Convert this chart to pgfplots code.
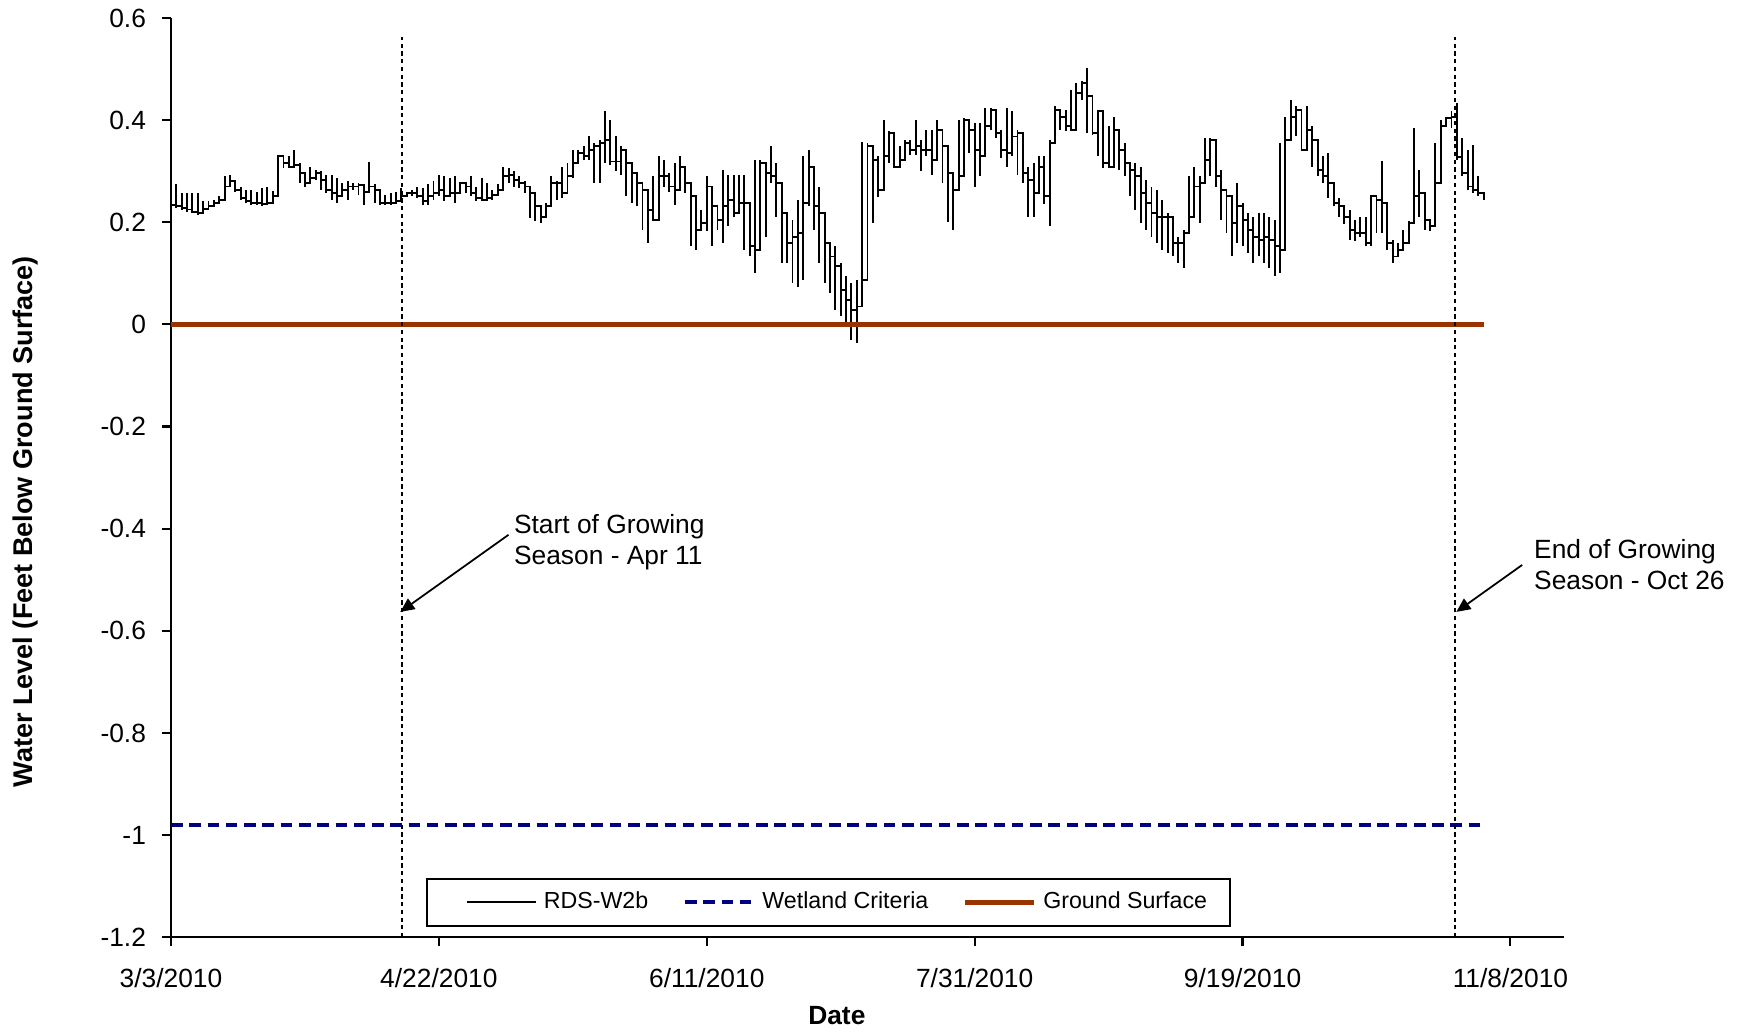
\documentclass[border=0pt]{standalone}
\usepackage{fontspec}
\setmainfont{Liberation Sans}
\usepackage{pgfplots}
\usepackage{pgfplotstable}
\pgfplotsset{compat=1.18}
\usetikzlibrary{arrows.meta}

\definecolor{groundbrown}{RGB}{153,51,0}
\definecolor{wetnavy}{RGB}{0,0,128}

\newcommand{\chartfont}{\fontsize{7.5pt}{8.9pt}\selectfont}
\newcommand{\legendfont}{\fontsize{6.6pt}{7.8pt}\selectfont}

% Daily water level at RDS-W2b (ft), days counted from 3/3/2010:
% y = daily step level, lo/hi = extent of the within-day swing
\pgfplotstableread{
d y lo hi
0 0.234 0.228 0.277
1 0.231 0.228 0.274
2 0.228 0.225 0.257
3 0.225 0.221 0.257
4 0.221 0.218 0.257
5 0.218 0.215 0.257
6 0.226 0.221 0.241
7 0.231 0.228 0.241
8 0.238 0.234 0.244
9 0.244 0.241 0.251
10 0.270 0.244 0.290
11 0.280 0.270 0.293
12 0.264 0.260 0.277
13 0.247 0.244 0.270
14 0.241 0.238 0.264
15 0.238 0.234 0.264
16 0.238 0.234 0.260
17 0.236 0.232 0.267
18 0.238 0.234 0.270
19 0.251 0.238 0.262
20 0.329 0.251 0.332
21 0.316 0.306 0.329
22 0.309 0.306 0.329
23 0.313 0.306 0.342
24 0.296 0.277 0.316
25 0.277 0.270 0.296
26 0.287 0.277 0.309
27 0.296 0.283 0.303
28 0.283 0.264 0.300
29 0.264 0.257 0.293
30 0.257 0.244 0.293
31 0.251 0.238 0.287
32 0.264 0.251 0.277
33 0.270 0.244 0.280
34 0.270 0.264 0.277
35 0.273 0.254 0.277
36 0.260 0.234 0.274
37 0.270 0.260 0.318
38 0.264 0.238 0.274
39 0.238 0.234 0.254
40 0.238 0.234 0.254
41 0.238 0.234 0.257
42 0.241 0.238 0.260
43 0.251 0.244 0.267
44 0.257 0.251 0.260
45 0.257 0.251 0.264
46 0.251 0.247 0.270
47 0.241 0.234 0.267
48 0.251 0.234 0.274
49 0.257 0.244 0.280
50 0.264 0.251 0.293
51 0.251 0.241 0.290
52 0.257 0.251 0.287
53 0.257 0.238 0.290
54 0.277 0.270 0.277
55 0.270 0.257 0.274
56 0.257 0.251 0.290
57 0.247 0.241 0.270
58 0.244 0.241 0.287
59 0.247 0.241 0.277
60 0.254 0.244 0.264
61 0.264 0.257 0.274
62 0.290 0.280 0.309
63 0.293 0.277 0.306
64 0.283 0.270 0.300
65 0.277 0.267 0.290
66 0.270 0.257 0.280
67 0.257 0.208 0.270
68 0.231 0.202 0.234
69 0.211 0.198 0.234
70 0.231 0.225 0.238
71 0.277 0.264 0.290
72 0.277 0.244 0.280
73 0.257 0.247 0.309
74 0.290 0.267 0.316
75 0.316 0.287 0.342
76 0.336 0.322 0.342
77 0.329 0.322 0.349
78 0.342 0.322 0.368
79 0.349 0.277 0.355
80 0.355 0.277 0.362
81 0.362 0.316 0.417
82 0.319 0.313 0.401
83 0.319 0.300 0.368
84 0.342 0.293 0.349
85 0.316 0.251 0.322
86 0.296 0.238 0.316
87 0.277 0.231 0.290
88 0.264 0.185 0.277
89 0.224 0.159 0.244
90 0.205 0.203 0.290
91 0.290 0.290 0.329
92 0.290 0.270 0.322
93 0.270 0.260 0.296
94 0.264 0.234 0.316
95 0.309 0.277 0.329
96 0.277 0.257 0.290
97 0.251 0.153 0.257
98 0.185 0.146 0.211
99 0.198 0.182 0.224
100 0.270 0.182 0.290
101 0.231 0.153 0.251
102 0.205 0.185 0.231
103 0.231 0.159 0.303
104 0.244 0.192 0.293
105 0.218 0.211 0.293
106 0.238 0.225 0.293
107 0.238 0.146 0.293
108 0.153 0.133 0.211
109 0.146 0.101 0.322
110 0.316 0.238 0.322
111 0.296 0.172 0.309
112 0.290 0.277 0.349
113 0.277 0.211 0.316
114 0.218 0.120 0.270
115 0.159 0.120 0.211
116 0.172 0.081 0.205
117 0.179 0.074 0.244
118 0.238 0.087 0.329
119 0.309 0.231 0.342
120 0.231 0.185 0.290
121 0.218 0.120 0.270
122 0.159 0.081 0.192
123 0.133 0.061 0.159
124 0.114 0.029 0.153
125 0.068 0.016 0.120
126 0.048 -0.004 0.094
127 0.029 -0.030 0.081
128 0.035 -0.037 0.087
129 0.087 0.081 0.358
130 0.349 0.342 0.355
131 0.322 0.198 0.329
132 0.264 0.250 0.329
133 0.329 0.322 0.401
134 0.375 0.316 0.378
135 0.309 0.306 0.329
136 0.322 0.316 0.349
137 0.355 0.336 0.362
138 0.342 0.332 0.362
139 0.349 0.332 0.401
140 0.342 0.300 0.362
141 0.342 0.329 0.381
142 0.322 0.293 0.381
143 0.381 0.349 0.401
144 0.349 0.277 0.355
145 0.296 0.201 0.303
146 0.264 0.185 0.290
147 0.290 0.270 0.401
148 0.401 0.381 0.404
149 0.381 0.336 0.384
150 0.342 0.270 0.394
151 0.329 0.290 0.394
152 0.388 0.375 0.424
153 0.420 0.381 0.424
154 0.375 0.365 0.378
155 0.342 0.326 0.381
156 0.336 0.309 0.424
157 0.368 0.329 0.417
158 0.375 0.293 0.381
159 0.296 0.277 0.336
160 0.283 0.211 0.309
161 0.257 0.211 0.316
162 0.309 0.257 0.329
163 0.251 0.235 0.329
164 0.355 0.192 0.362
165 0.420 0.362 0.427
166 0.407 0.381 0.414
167 0.388 0.378 0.420
168 0.381 0.378 0.459
169 0.453 0.433 0.473
170 0.473 0.440 0.476
171 0.447 0.375 0.502
172 0.375 0.371 0.427
173 0.417 0.329 0.420
174 0.316 0.306 0.381
175 0.309 0.306 0.388
176 0.381 0.322 0.407
177 0.342 0.303 0.381
178 0.316 0.290 0.355
179 0.303 0.251 0.316
180 0.290 0.225 0.316
181 0.257 0.198 0.309
182 0.238 0.185 0.283
183 0.218 0.172 0.270
184 0.211 0.159 0.264
185 0.211 0.146 0.244
186 0.211 0.140 0.218
187 0.159 0.133 0.185
188 0.159 0.120 0.172
189 0.179 0.110 0.185
190 0.211 0.198 0.290
191 0.270 0.251 0.309
192 0.277 0.198 0.290
193 0.322 0.277 0.365
194 0.362 0.290 0.365
195 0.290 0.270 0.336
196 0.264 0.205 0.303
197 0.251 0.179 0.257
198 0.198 0.133 0.251
199 0.231 0.159 0.277
200 0.205 0.153 0.238
201 0.185 0.140 0.218
202 0.172 0.120 0.211
203 0.166 0.133 0.218
204 0.172 0.120 0.218
205 0.166 0.110 0.211
206 0.153 0.094 0.205
207 0.146 0.101 0.355
208 0.362 0.355 0.407
209 0.407 0.397 0.440
210 0.420 0.368 0.427
211 0.342 0.342 0.381
212 0.381 0.355 0.427
213 0.362 0.309 0.388
214 0.303 0.290 0.336
215 0.290 0.277 0.329
216 0.277 0.247 0.336
217 0.238 0.231 0.251
218 0.231 0.211 0.247
219 0.211 0.196 0.224
220 0.185 0.166 0.224
221 0.179 0.163 0.205
222 0.179 0.172 0.211
223 0.159 0.153 0.211
224 0.251 0.153 0.254
225 0.244 0.179 0.251
226 0.238 0.179 0.319
227 0.159 0.146 0.202
228 0.133 0.120 0.166
229 0.146 0.133 0.159
230 0.159 0.146 0.185
231 0.198 0.159 0.202
232 0.251 0.198 0.384
233 0.257 0.211 0.303
234 0.205 0.185 0.225
235 0.192 0.182 0.205
236 0.277 0.192 0.355
237 0.388 0.355 0.401
238 0.404 0.394 0.407
239 0.407 0.384 0.417
240 0.327 0.322 0.433
241 0.296 0.290 0.365
242 0.270 0.264 0.342
243 0.264 0.257 0.352
244 0.257 0.251 0.290
245 0.251 0.244 0.257
}\levels

\begin{document}
\begin{tikzpicture}
\begin{axis}[
  name=ax,
  scale only axis,
  width=396.3pt, height=261.5pt,
  xmin=0, xmax=260, ymin=-1.2, ymax=0.6,
  axis x line=bottom, axis y line=left,
  axis line style={-, black, line width=0.6pt},
  tick align=outside,
  major tick length=2.5pt,
  tick style={black, line width=0.6pt},
  xtick={0,50,100,150,200,250},
  xticklabels={3/3/2010,4/22/2010,6/11/2010,7/31/2010,9/19/2010,11/8/2010},
  ytick={-1.2,-1,-0.8,-0.6,-0.4,-0.2,0,0.2,0.4,0.6},
  yticklabels={-1.2,-1,-0.8,-0.6,-0.4,-0.2,0,0.2,0.4,0.6},
  tick label style={font=\chartfont, inner ysep=0pt},
  xticklabel style={yshift=-6.3pt},
  yticklabel style={xshift=-1.1pt},
  xlabel={Date},
  ylabel={Water Level (Feet Below Ground Surface)},
  xlabel style={font=\chartfont\bfseries, inner sep=0pt,
    at={(axis description cs:0.478,-0.0856)}, anchor=center},
  ylabel style={font=\fontsize{7.7pt}{9pt}\selectfont\bfseries, inner sep=0pt,
    at={(axis description cs:-0.1048,0.452)}, anchor=center},
  clip=false,
  legend columns=3,
  legend cell align=left,
  legend style={at={(rel axis cs:0.472,0.038)}, anchor=center,
    draw=black, line width=0.6pt, fill=white, font=\legendfont,
    inner xsep=4.5pt, inner ysep=1.6pt,
    /tikz/every even column/.append style={column sep=7.9pt}},
]

\addplot[const plot, black, line width=0.55pt, mark=none,
  legend image code/.code={\path (-6.7pt,0pt); \draw[black, line width=0.5pt] (0pt,0pt) -- (19.5pt,0pt);},
  error bars/.cd, y dir=both, y explicit, error mark=none,
  error bar style={black, line width=0.55pt}]
  table[x=d, y=y,
        y error plus expr=\thisrow{hi}-\thisrow{y},
        y error minus expr=\thisrow{y}-\thisrow{lo}] {\levels};
\addlegendentry{RDS-W2b}

\addplot[wetnavy, line width=1.1pt, dash pattern=on 3.3pt off 1.9pt,
  legend image code/.code={\draw[wetnavy, line width=1.1pt, dash pattern=on 3.3pt off 1.9pt] (0pt,0pt) -- (19.5pt,0pt);}]
  coordinates {(0,-0.98) (245,-0.98)};
\addlegendentry{Wetland Criteria}

\addplot[groundbrown, line width=1.3pt,
  legend image code/.code={\draw[groundbrown, line width=1.3pt] (0pt,0pt) -- (19.5pt,0pt);}]
  coordinates {(0,0) (245,0)};
\addlegendentry{Ground Surface}

% growing season limits
\addplot[black, line width=0.55pt, dash pattern=on 1.2pt off 1pt, forget plot]
  coordinates {(43.2,-1.2) (43.2,0.563)};
\addplot[black, line width=0.55pt, dash pattern=on 1.2pt off 1pt, forget plot]
  coordinates {(239.6,-1.2) (239.6,0.563)};

\node[anchor=north west, inner sep=0pt, align=left, font=\chartfont]
  at (axis cs:63.9,-0.370) {Start of Growing\\Season - Apr 11};
\draw[-{Triangle[length=4pt,width=3.6pt]}, line width=0.5pt]
  (axis cs:63.0,-0.412) -- (axis cs:42.8,-0.563);

\node[anchor=north west, inner sep=0pt, align=left, font=\chartfont]
  at (axis cs:254.3,-0.419) {End of Growing\\Season - Oct 26};
\draw[-{Triangle[length=4pt,width=3.6pt]}, line width=0.5pt]
  (axis cs:252.2,-0.471) -- (axis cs:239.9,-0.563);

% page extent around the plot area
\path (rel axis cs:-0.12276,-0.10229) rectangle (rel axis cs:1.13640,1.01959);
\end{axis}
\end{tikzpicture}
\end{document}
